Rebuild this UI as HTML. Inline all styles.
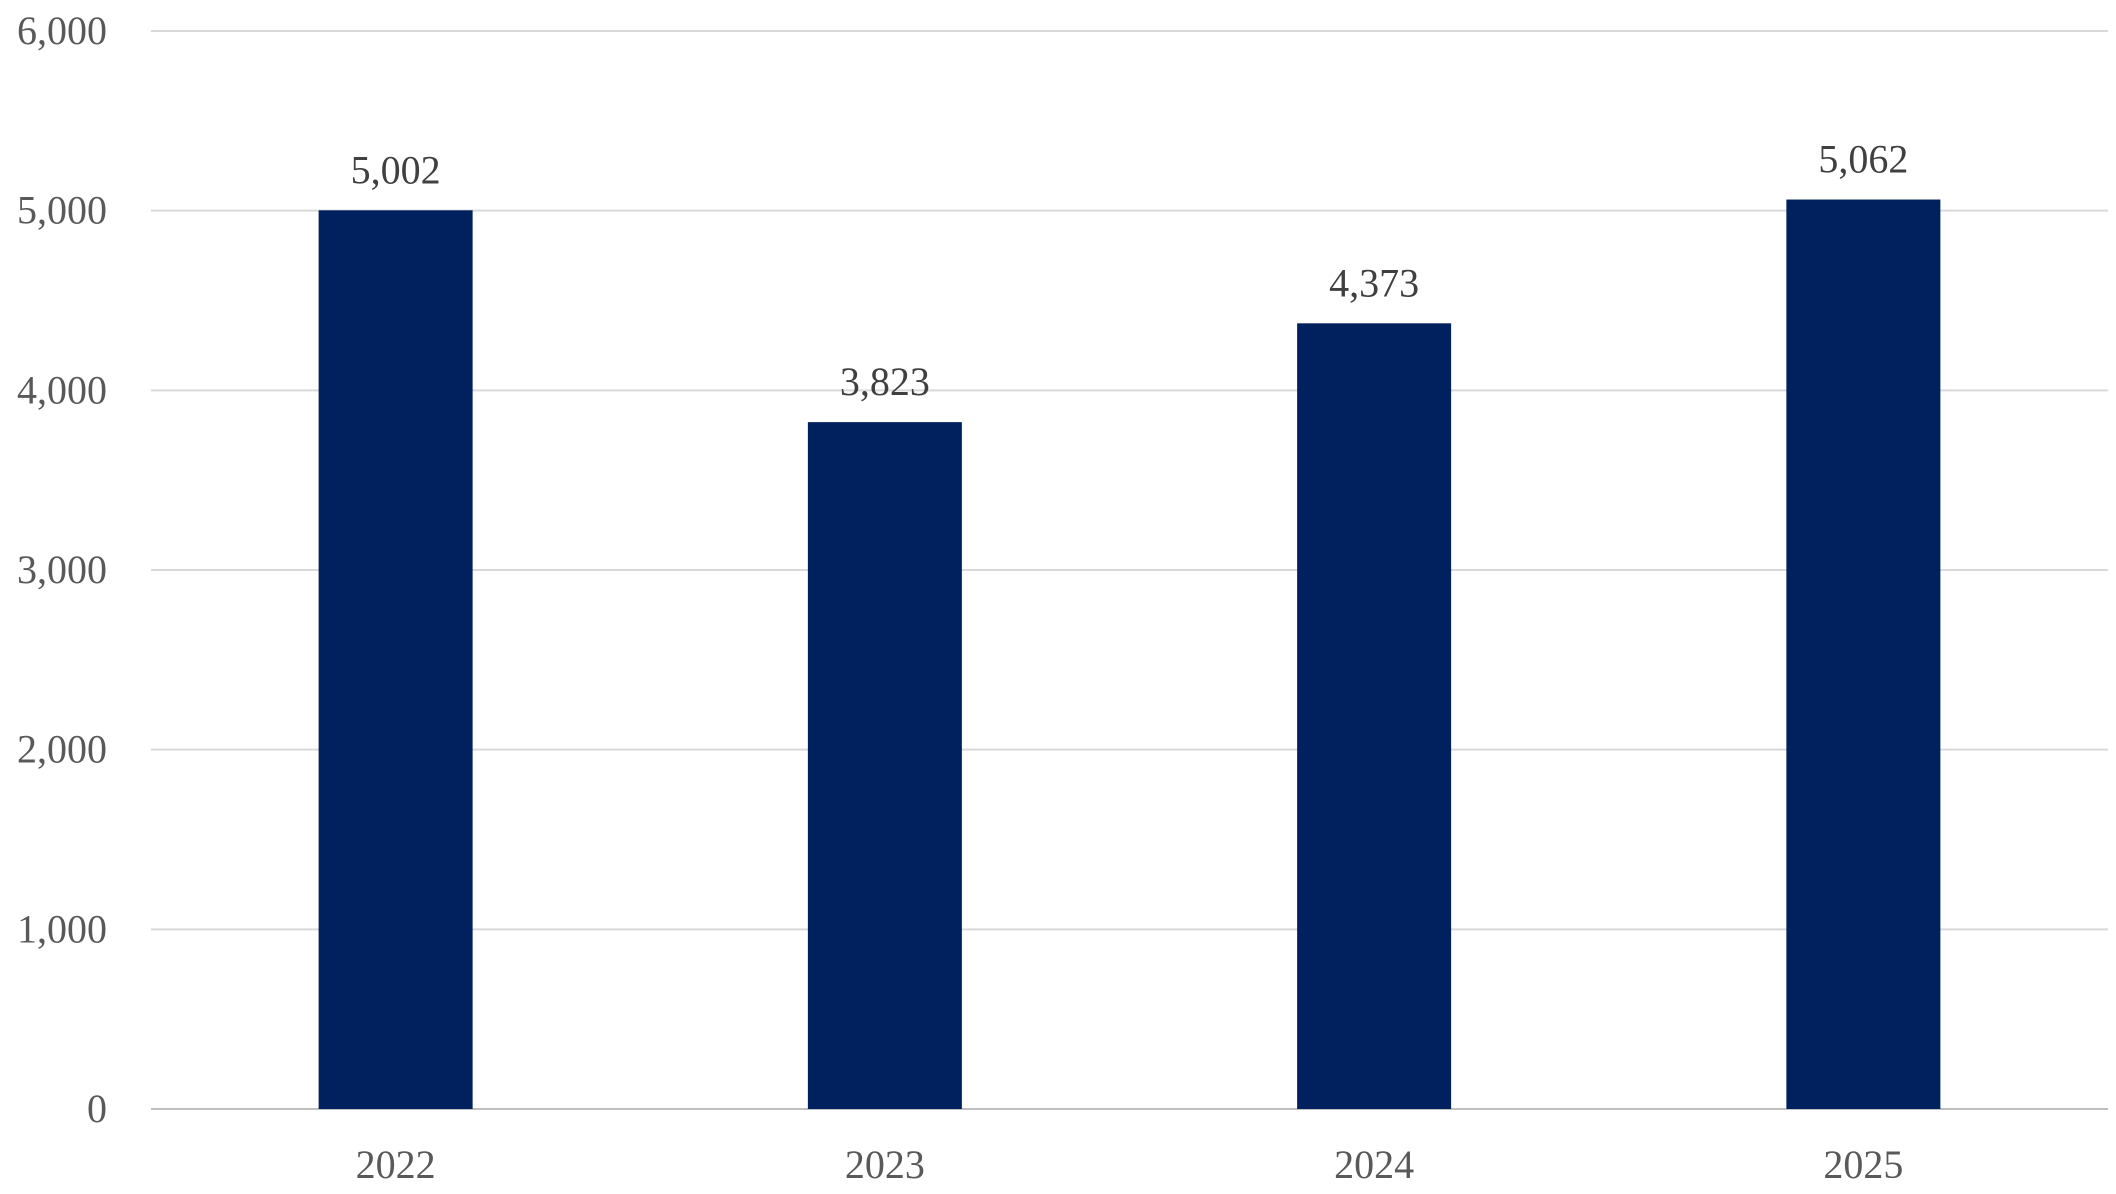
<!DOCTYPE html>
<html><head><meta charset="utf-8"><style>
html,body{margin:0;padding:0;background:#fff;}
svg{display:block;}
text{font-family:"Liberation Serif","DejaVu Serif",serif;}
</style></head><body>
<svg id="chart" width="2116" height="1194" viewBox="0 0 2116 1194" xmlns="http://www.w3.org/2000/svg">
<g id="grid"></g>
<g id="yaxis"></g>
<g id="bars"></g>
<g id="xaxis"></g>
</svg>
<script>
const categories = ["2022","2023","2024","2025"];
const values = [5002,3823,4373,5062];
const valueLabels = ["5,002","3,823","4,373","5,062"];
const yTicks = [0,1000,2000,3000,4000,5000,6000];
const yTickLabels = ["0","1,000","2,000","3,000","4,000","5,000","6,000"];

const NS="http://www.w3.org/2000/svg";
const plotLeft=151,plotRight=2108,plotTop=31,plotBottom=1109,yMax=6000;
const band=(plotRight-plotLeft)/categories.length, barW=154;
const yScale=v=>plotBottom-(v/yMax)*(plotBottom-plotTop);
const xc=i=>plotLeft+band*(i+0.5);
function mk(tag,attrs,parent){const e=document.createElementNS(NS,tag);for(const k in attrs)e.setAttribute(k,attrs[k]);document.getElementById(parent).appendChild(e);return e;}
yTicks.forEach((t,i)=>{
  const l=mk('line',{x1:plotLeft,x2:plotRight,y1:yScale(t),y2:yScale(t),stroke:t===0?'#bfbfbf':'#d9d9d9','stroke-width':2},'grid');
  
  
  const tx=mk('text',{x:107,y:yScale(t)+13,'text-anchor':'end','font-size':40,fill:'#595959'},'yaxis');
  tx.textContent=yTickLabels[i];
  
  
});
categories.forEach((c,i)=>{
  const r=mk('rect',{x:xc(i)-barW/2,y:yScale(values[i]),width:barW,height:plotBottom-yScale(values[i]),fill:'#00205E'},'bars');
  
  
  const vl=mk('text',{x:xc(i),y:yScale(values[i])-27,'text-anchor':'middle','font-size':40,fill:'#404040'},'bars');
  vl.textContent=valueLabels[i];
  
  
  const xl=mk('text',{x:xc(i),y:1178,'text-anchor':'middle','font-size':40,fill:'#595959'},'xaxis');
  xl.textContent=c;
  
  
});
</script>
</body></html>
